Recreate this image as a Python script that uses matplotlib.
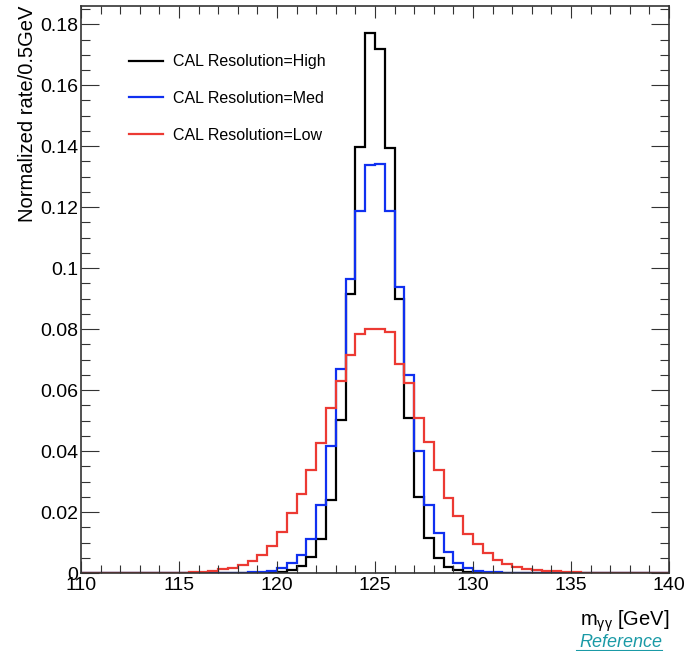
import numpy as np
import matplotlib
matplotlib.use('Agg')
import matplotlib.pyplot as plt
from matplotlib.ticker import MultipleLocator

plt.rcParams['font.family'] = ['Liberation Sans', 'DejaVu Sans']
plt.rcParams['mathtext.fontset'] = 'custom'
plt.rcParams['mathtext.rm'] = 'Liberation Sans'
plt.rcParams['mathtext.it'] = 'Liberation Sans:italic'

# m_gg bins, 0.5 GeV wide, 110 -> 140
edges = np.arange(110, 140.5, 0.5)

labels = ['CAL Resolution=High', 'CAL Resolution=Med', 'CAL Resolution=Low']
colors = ['black', '#1030f0', '#ec3a33']

high = [0]*18 + [0.0001, 0.0002, 0.0004, 0.0010, 0.0023, 0.0051, 0.0110, 0.0239,
                 0.0502, 0.0914, 0.1398, 0.1770, 0.1718, 0.1395, 0.0900, 0.0507,
                 0.0248, 0.0114, 0.0048, 0.0021, 0.0010, 0.0004, 0.0002, 0.0001] + [0]*18
med = [0]*16 + [0.0001, 0.0002, 0.0004, 0.0008, 0.0015, 0.0032, 0.0059, 0.0110,
                0.0223, 0.0416, 0.0668, 0.0964, 0.1187, 0.1338, 0.1341, 0.1187,
                0.0939, 0.0649, 0.0400, 0.0223, 0.0130, 0.0068, 0.0032, 0.0015,
                0.0008, 0.0004, 0.0002, 0.0001] + [0]*16
low = [0]*10 + [0.0001, 0.0002, 0.0003, 0.0007, 0.0012, 0.0016, 0.0025, 0.0040,
                0.0059, 0.0089, 0.0135, 0.0196, 0.0258, 0.0338, 0.0427, 0.0540,
                0.0630, 0.0715, 0.0783, 0.0802, 0.0799, 0.0789, 0.0684, 0.0624,
                0.0507, 0.0429, 0.0338, 0.0245, 0.0187, 0.0128, 0.0095, 0.0065,
                0.0043, 0.0028, 0.0019, 0.0013, 0.0010, 0.0007, 0.0005, 0.0003,
                0.0002, 0.0001] + [0]*8

fig = plt.figure(figsize=(6.99, 6.51), dpi=100)
ax = fig.add_axes([0.1159, 0.1198, 0.8411, 0.871])

for vals, lab, c in zip([high, med, low], labels, colors):
    ax.stairs(vals, edges, color=c, lw=1.6, label=lab)

ax.set_xlim(110, 140)
ax.set_ylim(0, 0.186)

ax.xaxis.set_major_locator(MultipleLocator(5))
ax.xaxis.set_minor_locator(MultipleLocator(1))
ax.yaxis.set_minor_locator(MultipleLocator(0.005))
ax.set_yticks(np.arange(0, 0.19, 0.02))
ax.set_yticklabels(['0', '0.02', '0.04', '0.06', '0.08', '0.1', '0.12', '0.14', '0.16', '0.18'])

ax.tick_params(axis='both', which='both', direction='in', top=True, right=True,
               labelsize=14, width=0.8, color='#333333')
ax.tick_params(axis='x', which='major', length=8.6, pad=3)
ax.tick_params(axis='x', which='minor', length=5.5)
ax.tick_params(axis='y', which='major', length=13, pad=2)
ax.tick_params(axis='y', which='minor', length=6.5)
for s in ax.spines.values():
    s.set_linewidth(1.2)
    s.set_color('#333333')

ax.set_ylabel('Normalized rate/0.5GeV', fontsize=14.5, loc='top', labelpad=2)
ax.set_xlabel(r'm$_{\mathregular{γγ}}$ [GeV]', fontsize=14.5, loc='right', labelpad=10)

ax.legend(loc='upper left', bbox_to_anchor=(0.057, 0.94), frameon=False, fontsize=11.5,
          handlelength=2.15, handletextpad=0.6, labelspacing=1.35)

fig.text(0.947, 0.0, 'Reference', color='#1a9aa6', fontsize=13, style='italic',
         ha='right', va='bottom')
fig.add_artist(plt.Line2D([0.826, 0.947], [0.0, 0.0], transform=fig.transFigure,
                          color='#1a9aa6', lw=1.5))

fig.savefig('out.png', dpi=100)
